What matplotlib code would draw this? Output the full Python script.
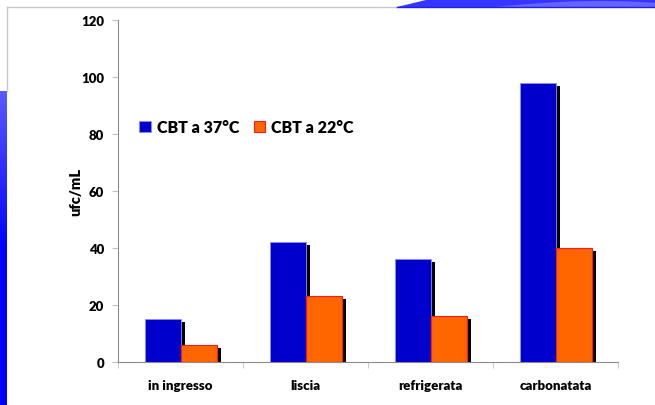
import matplotlib
matplotlib.use("Agg")
import matplotlib.pyplot as plt
import numpy as np
from matplotlib.patches import Polygon

plt.rcParams['font.family'] = ['Lato', 'DejaVu Sans']
plt.rcParams['font.weight'] = 'heavy'

# Conta batterica totale per tipo di acqua
categorie = ['in ingresso', 'liscia', 'refrigerata', 'carbonatata']
cbt_37 = [15, 42, 36, 98]
cbt_22 = [6, 23, 16, 40]
serie_labels = ['CBT a 37°C', 'CBT a 22°C']

W, H = 655, 406
fig = plt.figure(figsize=(W / 100, H / 100), dpi=100)

# slide background: white panel, blue strip on the left, wave on top right
bg = fig.add_axes([0, 0, 1, 1], zorder=0)
bg.set_xlim(0, W)
bg.set_ylim(H, 0)
bg.axis('off')
grad = np.linspace(0, 1, 100).reshape(-1, 1)
bg.imshow(grad, extent=(0, 7, H, 92), aspect='auto',
          cmap=matplotlib.colors.LinearSegmentedColormap.from_list('s', ['#5a5aff', '#0000ff', '#0000ff']))
bg.plot([7, 397], [8, 8], color='#c8c8c8', lw=1)
bg.plot([7, 7], [8, 92], color='#c8c8c8', lw=1)
xw = np.linspace(397, W, 60)
top_edge = np.where(xw < 430, 8 - 8 * (xw - 397) / 33, 0)
wave = np.column_stack([np.r_[xw, xw[::-1]], np.r_[top_edge, np.full_like(xw, 8)]])
bg.add_patch(Polygon(wave, closed=True, color='#3535ff', lw=0))
xb = np.linspace(493, W, 60)
band_top = 8 - 6 * np.sin(np.pi * (xb - 493) / (2 * (600 - 493)))
band_top = np.clip(band_top, 2, 8)
band = np.column_stack([np.r_[xb, xb[::-1]], np.r_[band_top, np.full_like(xb, 8)]])
bg.add_patch(Polygon(band, closed=True, color='#6464ff', lw=0))
bg.plot([397, W], [8, 8], color='#2020ee', lw=1)

ax = fig.add_axes([118 / W, 1 - 363 / H, 500 / W, 342 / H], zorder=1)
ax.patch.set_alpha(0)

x = np.arange(len(categorie))
bw = 0.288
dx = 0.032
for i, (b, o) in enumerate(zip(cbt_37, cbt_22)):
    ax.bar(x[i] - bw / 2 + dx, b - 1, bw, color='black', zorder=2)
    ax.bar(x[i] - bw / 2, b, bw, color='#0000cc', edgecolor='#8c8cff', lw=0.6, zorder=3,
           label=serie_labels[0] if i == 0 else None)
    ax.bar(x[i] + bw / 2 + dx, o - 1, bw, color='black', zorder=4)
    ax.bar(x[i] + bw / 2, o, bw, color='#ff6600', edgecolor='#ff1a1a', lw=0.8, zorder=5,
           label=serie_labels[1] if i == 0 else None)

ax.set_xlim(-0.5, len(categorie) - 0.5)
ax.set_ylim(0, 120)
ax.set_yticks(range(0, 121, 20))
ax.set_xticks(x)
ax.set_xticklabels(categorie, fontsize=9.5, fontweight='heavy')
ax.set_xticks(np.arange(-0.5, len(categorie)), minor=True)
ax.tick_params(axis='x', which='major', length=0, pad=12)
ax.tick_params(axis='x', which='minor', length=4, color='#c0c0c0')
ax.tick_params(axis='y', length=4, color='#c0c0c0', labelsize=9.5, pad=6)
for lbl in ax.get_yticklabels():
    lbl.set_fontweight('heavy')
for s in ['top', 'right']:
    ax.spines[s].set_visible(False)
ax.spines['left'].set_color('#8c8c8c')
ax.spines['bottom'].set_color('#8c8c8c')
ax.set_ylabel('ufc/mL', fontsize=10.5, fontweight='heavy', labelpad=-1)

ax.legend(loc='upper left', bbox_to_anchor=(0.03, 0.73), ncol=2, frameon=False,
          prop={'size': 11.5, 'weight': 'heavy'}, handlelength=0.7, handleheight=0.7,
          handletextpad=0.4, columnspacing=0.9, borderaxespad=0)

fig.savefig('out.png', dpi=100)
